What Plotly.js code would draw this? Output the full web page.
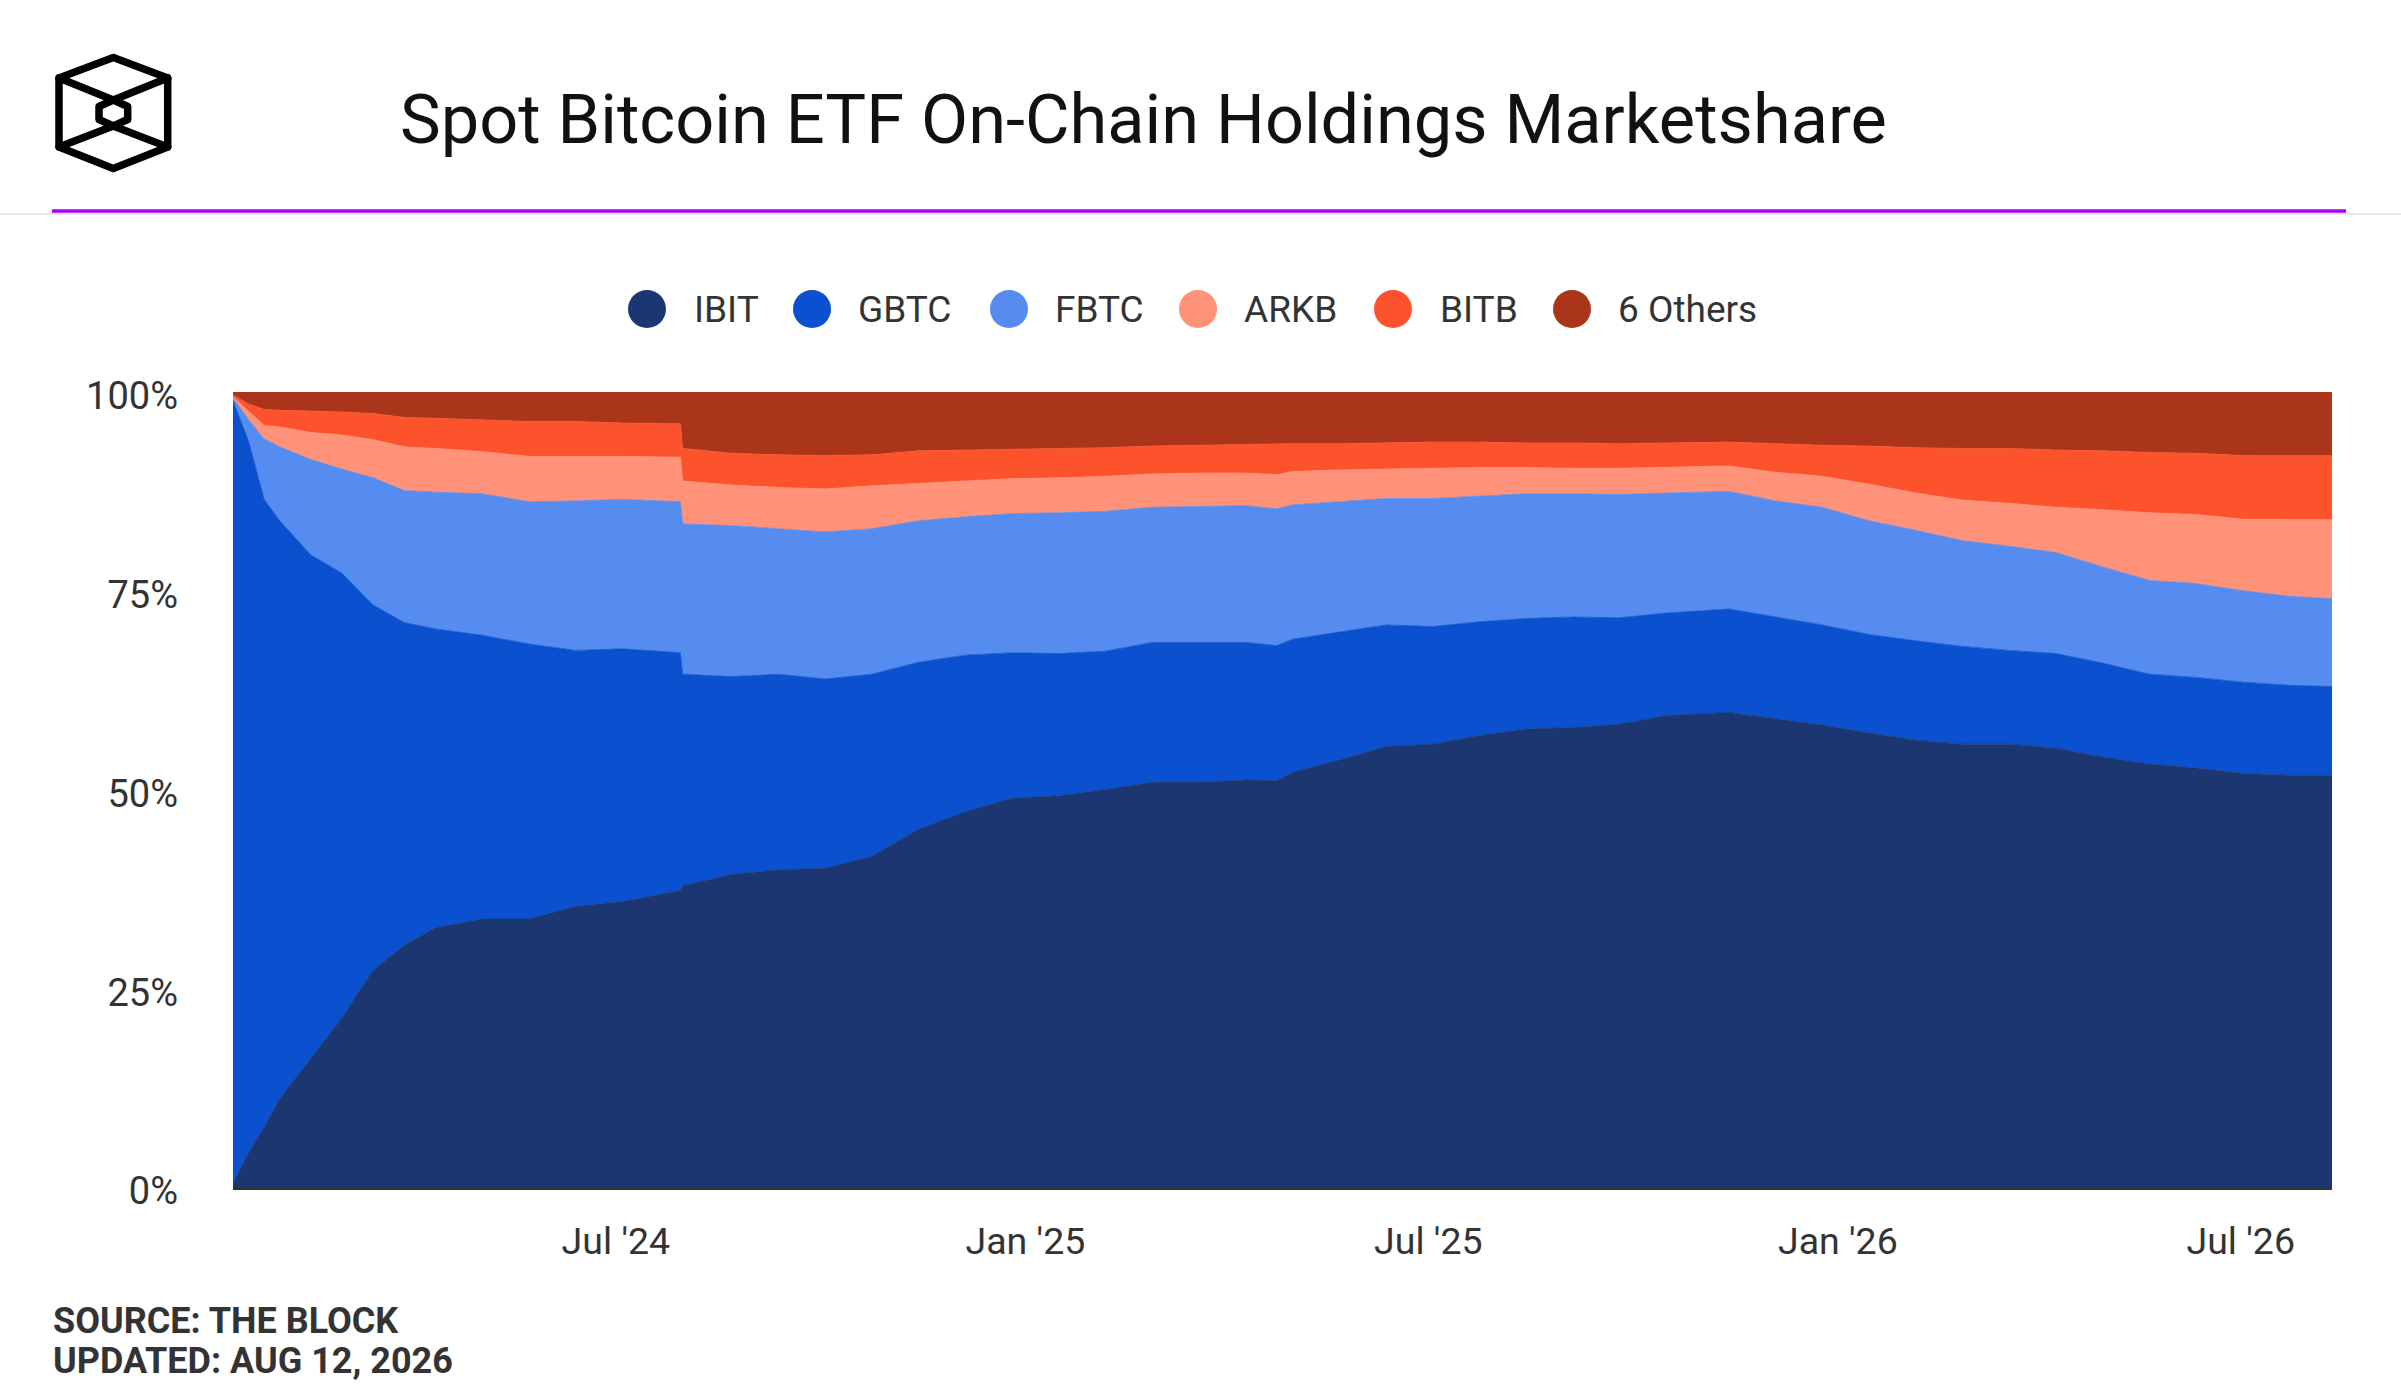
<!DOCTYPE html>
<html>
<head>
<meta charset="utf-8">
<script src="https://cdn.plot.ly/plotly-3.0.1.min.js"></script>
<style>
  html, body { margin: 0; padding: 0; background: #fff; }
  #wrap { position: relative; width: 2401px; height: 1400px; }
  #chart { position: absolute; left: 0; top: 0; width: 2401px; height: 1400px; }
  #logo { position: absolute; left: 0; top: 0; }
</style>
</head>
<body>
<div id="wrap">
  <div id="chart"></div>
  <svg id="logo" width="240" height="220" viewBox="0 0 240 220">
    <g fill="none" stroke="#000" stroke-width="7.5" stroke-linejoin="round" stroke-linecap="round">
      <polygon points="113.3,57.5 167.7,78 167.7,147 113.3,168.5 59,147 59,78"/>
      <polyline points="59,78 113.3,100 167.7,78"/>
      <polyline points="59,147 113.3,126 167.7,147"/>
      <polygon points="113.3,100 127.7,106.5 127.7,119.5 113.3,126 99,119.5 99,106.5"/>
    </g>
  </svg>
</div>
<script>
// ---- Data (market share, %) ----
const dates = ['2024-01-11','2024-01-18','2024-01-25','2024-02-01','2024-02-15','2024-02-29','2024-03-14','2024-03-28','2024-04-11','2024-05-02',
  '2024-05-23','2024-06-13','2024-07-04','2024-07-30','2024-07-31','2024-08-22','2024-09-12','2024-10-03','2024-10-24','2024-11-14',
  '2024-12-05','2024-12-26','2025-01-16','2025-02-06','2025-02-27','2025-03-20','2025-04-10','2025-04-24','2025-05-01','2025-05-22',
  '2025-06-12','2025-07-03','2025-07-24','2025-08-14','2025-09-04','2025-09-25','2025-10-16','2025-11-13','2025-12-04','2025-12-25',
  '2026-01-15','2026-02-05','2026-02-26','2026-03-19','2026-04-09','2026-04-30','2026-05-21','2026-06-11','2026-07-02','2026-07-23','2026-08-11'];

const IBIT = [0.4,4.3,7.5,11.1,16.2,21.3,27.3,30.4,32.6,33.7,
  33.7,35.3,35.9,37.3,37.9,39.3,39.9,40.1,41.6,45.0,
  47.2,48.9,49.2,50.0,50.9,50.9,51.2,51.1,52.2,53.7,
  55.4,55.7,56.8,57.6,57.8,58.2,59.3,59.7,58.9,58.1,
  57.1,56.2,55.7,55.7,55.2,54.1,53.2,52.7,52.0,51.8,51.6];

const GBTC = [98.5,89.5,79.0,72.7,63.3,55.9,45.9,40.6,37.6,35.7,
  34.6,32.2,31.8,29.9,26.6,24.9,24.6,23.8,22.9,21.0,
  19.7,18.3,17.9,17.4,17.6,17.6,17.3,17.0,16.7,16.1,
  15.3,14.8,14.3,13.9,13.9,13.4,12.9,13.0,12.8,12.6,
  12.4,12.5,12.3,11.8,11.9,11.8,11.3,11.4,11.5,11.3,11.1];

const FBTC = [0.3,2.7,7.6,9.3,12.0,13.1,16.0,16.6,17.2,17.8,
  17.9,18.8,18.8,19.0,18.9,19.0,18.3,18.5,18.3,17.8,
  17.4,17.5,17.7,17.6,17.0,17.1,17.2,17.2,16.9,16.4,
  15.9,16.1,15.8,15.7,15.5,15.5,15.1,14.8,14.6,14.8,
  14.3,13.9,13.3,13.1,12.7,12.1,11.8,11.8,11.5,11.2,11.0];

const ARKB = [0.2,1.1,1.7,2.5,3.4,4.3,4.8,5.5,5.5,5.3,
  5.7,5.6,5.4,5.6,5.4,5.1,5.2,5.4,5.4,4.7,
  4.5,4.4,4.4,4.4,4.2,4.2,4.1,4.3,4.2,4.0,
  3.7,3.8,3.6,3.3,3.2,3.3,3.2,3.2,3.6,3.9,
  4.6,4.7,5.1,5.4,5.7,7.2,8.5,8.7,9.0,9.7,9.9];

const BITB = [0.2,0.9,2.0,2.1,2.7,2.9,3.3,3.7,3.8,4.0,
  4.4,4.4,4.2,4.2,4.1,4.0,4.1,4.2,3.9,4.1,
  3.9,3.7,3.7,3.6,3.5,3.5,3.6,3.8,3.5,3.3,
  3.3,3.3,3.2,3.1,3.2,3.1,3.1,3.0,3.6,3.9,
  4.8,5.7,6.5,6.9,7.2,7.4,7.6,7.7,8.0,8.0,8.0];

const OTHERS = [0.4,1.5,2.2,2.3,2.4,2.5,2.7,3.2,3.3,3.5,
  3.7,3.7,3.9,4.0,7.1,7.7,7.9,8.0,7.9,7.4,
  7.3,7.2,7.1,7.0,6.8,6.7,6.6,6.6,6.5,6.5,
  6.4,6.3,6.3,6.4,6.4,6.5,6.4,6.3,6.5,6.7,
  6.8,7.0,7.1,7.1,7.3,7.4,7.6,7.7,8.0,8.0,8.0];

const seriesNames = ['IBIT','GBTC','FBTC','ARKB','BITB','6 Others'];
const seriesValues = [IBIT, GBTC, FBTC, ARKB, BITB, OTHERS];
const seriesColors = ['#1b3670','#0b51cf','#568cef','#ff9279','#fc532d','#aa351b'];

const xTickVals = ['2024-07-01','2025-01-01','2025-07-01','2026-01-01','2026-07-01'];
const xTickText = ["Jul '24","Jan '25","Jul '25","Jan '26","Jul '26"];
const yTickVals = [0,25,50,75,100];
const yTickText = ['0%','25%','50%','75%','100%'];

const titleText = 'Spot Bitcoin ETF On-Chain Holdings Marketshare';
const footerLines = ['SOURCE: THE BLOCK','UPDATED: AUG 12, 2026'];

// ---- Geometry (pixels) ----
const W = 2401, H = 1400;
const M = {l: 233, r: 69, t: 392, b: 213};
const PW = W - M.l - M.r, PH = H - M.t - M.b;
const px2x = p => (p - M.l) / PW;
const px2y = p => (H - M.b - p) / PH;

const traces = seriesNames.map((name, i) => ({
  type: 'scatter',
  mode: 'lines',
  name: name,
  x: dates,
  y: seriesValues[i],
  stackgroup: 'one',
  groupnorm: 'percent',
  line: {width: 0.8, color: seriesColors[i], shape: 'linear'},
  fillcolor: seriesColors[i],
  showlegend: false,
  hoverinfo: 'skip'
}));

// custom legend: big circles + labels
const legendCircleX = [647, 812, 1009, 1198, 1393, 1572];
const legendTextX = [692, 856, 1053, 1242, 1438, 1616];
const legendY = 309;

const shapes = [];
const annotations = [];
seriesNames.forEach((name, i) => {
  shapes.push({
    type: 'circle', xref: 'paper', yref: 'paper',
    xsizemode: 'pixel', ysizemode: 'pixel',
    xanchor: px2x(legendCircleX[i]), yanchor: px2y(legendY),
    x0: -19, x1: 19, y0: -19, y1: 19,
    fillcolor: seriesColors[i], line: {width: 0}
  });
  annotations.push({
    xref: 'paper', yref: 'paper', x: px2x(legendTextX[i]), y: px2y(legendY),
    xanchor: 'left', yanchor: 'middle', showarrow: false,
    text: name, font: {family: 'Roboto', size: 37, color: '#333333'}
  });
});

// header rule lines
shapes.push({type: 'line', xref: 'paper', yref: 'paper',
  x0: px2x(0), x1: px2x(W), y0: px2y(214), y1: px2y(214),
  line: {color: '#e4dcef', width: 1.5}});
shapes.push({type: 'line', xref: 'paper', yref: 'paper',
  x0: px2x(52), x1: px2x(2346), y0: px2y(211), y1: px2y(211),
  line: {color: '#a500ff', width: 3.5}});

// footer
footerLines.forEach((t, i) => {
  annotations.push({
    xref: 'paper', yref: 'paper', x: px2x(51), y: px2y(1321 + i * 40),
    xanchor: 'left', yanchor: 'middle', showarrow: false,
    text: '<b>' + t + '</b>', font: {family: 'Roboto', size: 36, color: '#333333'}
  });
});

const layout = {
  width: W, height: H,
  margin: M,
  paper_bgcolor: '#ffffff',
  plot_bgcolor: '#ffffff',
  title: {
    text: titleText,
    font: {family: 'Roboto', size: 68.5, color: '#111111'},
    xref: 'container', x: 400 / W, xanchor: 'left',
    yref: 'container', y: 1 - 119 / H, yanchor: 'middle'
  },
  showlegend: false,
  xaxis: {
    type: 'date',
    range: ['2024-01-11', '2026-08-11'],
    tickvals: xTickVals, ticktext: xTickText,
    showgrid: false, zeroline: false,
    showline: true, linecolor: '#333333', linewidth: 3,
    ticks: '', ticklabelstandoff: 19,
    tickfont: {family: 'Roboto', size: 37.5, color: '#333333'},
    fixedrange: true
  },
  yaxis: {
    range: [0, 100],
    tickvals: yTickVals, ticktext: yTickText,
    showgrid: true, gridcolor: '#e6e6e6', gridwidth: 2,
    zeroline: false, showline: false,
    ticks: '', ticklabelstandoff: 54, ticklabelshift: 4,
    tickfont: {family: 'Roboto', size: 38, color: '#333333'},
    fixedrange: true
  },
  shapes: shapes,
  annotations: annotations
};

Plotly.newPlot('chart', traces, layout, {staticPlot: true, displayModeBar: false});
</script>
</body>
</html>
